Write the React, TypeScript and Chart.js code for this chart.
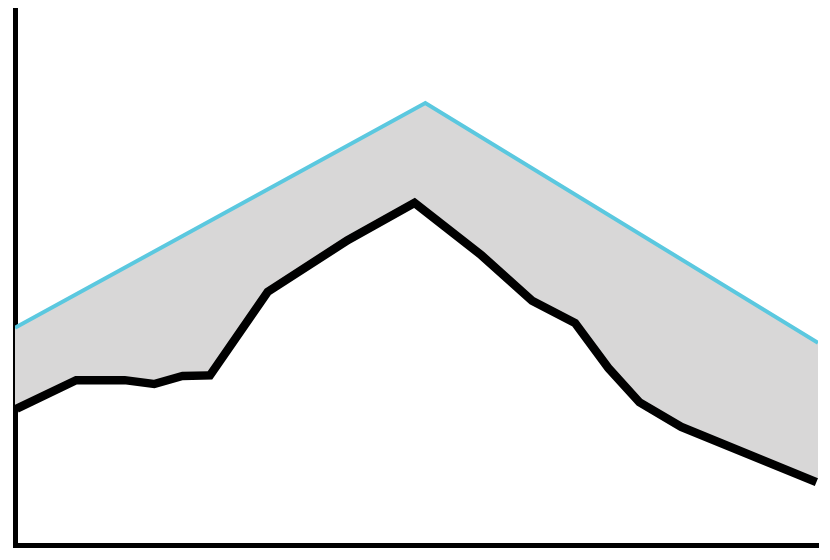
import React, { useEffect, useRef } from 'react';
import { Chart, registerables } from 'chart.js';

Chart.register(...registerables);

// upper envelope (cyan) — only three vertices
const upperX = [0, 51.1, 100];
const upperY = [40.6, 82.6, 37.8];

// lower series (black), irregular x spacing
const lowerX = [0, 7.5, 13.7, 17.3, 20.8, 24.0, 31.1, 41.1, 49.8, 58.4, 64.7, 70.1, 74.3, 78.1, 83.2, 100];
const lowerY = [26.2, 31.6, 31.6, 30.9, 32.4, 32.5, 47.9, 57.6, 64.9, 54.8, 46.3, 42.1, 33.6, 27.3, 22.8, 12.5];

const toPts = (xs: number[], ys: number[]) => xs.map((x, i) => ({ x, y: ys[i] }));

export default function App() {
  const ref = useRef<HTMLCanvasElement>(null);
  const chartRef = useRef<Chart | null>(null);

  useEffect(() => {
    if (!ref.current) return;
    const ctx = ref.current.getContext('2d'); if (!ctx) return;

    chartRef.current?.destroy();
    chartRef.current = new Chart(ctx, {
      type: 'line',
      data: {
        datasets: [
          {
            label: 'upper',
            data: toPts(upperX, upperY),
            borderColor: '#5bc8df',
            borderWidth: 4,
            backgroundColor: '#d8d7d7',
            fill: '+1',
            pointRadius: 0,
            tension: 0,
          },
          {
            label: 'lower',
            data: toPts(lowerX, lowerY),
            borderColor: '#000000',
            borderWidth: 17,
            fill: false,
            pointRadius: 0,
            tension: 0,
            clip: 0,
          },
        ],
      },
      options: {
        animation: false,
        responsive: true,
        maintainAspectRatio: false,
        layout: { padding: { left: 15, top: 10, right: 12, bottom: 15 } },
        plugins: { legend: { display: false }, tooltip: { enabled: false } },
        scales: {
          x: {
            type: 'linear', min: 0, max: 100,
            grid: { display: false, drawTicks: false },
            ticks: { display: false },
            border: { display: true, color: '#000', width: 5 },
          },
          y: {
            min: 0, max: 100,
            grid: { display: false, drawTicks: false },
            ticks: { display: false },
            border: { display: true, color: '#000', width: 5 },
          },
        },
      },
    });

    return () => chartRef.current?.destroy();
  }, []);

  return (
    <div style={{ position: 'absolute', left: 0, top: 0, width: 830, height: 560, background: '#fff' }}>
      <canvas ref={ref}></canvas>
    </div>
  );
}
